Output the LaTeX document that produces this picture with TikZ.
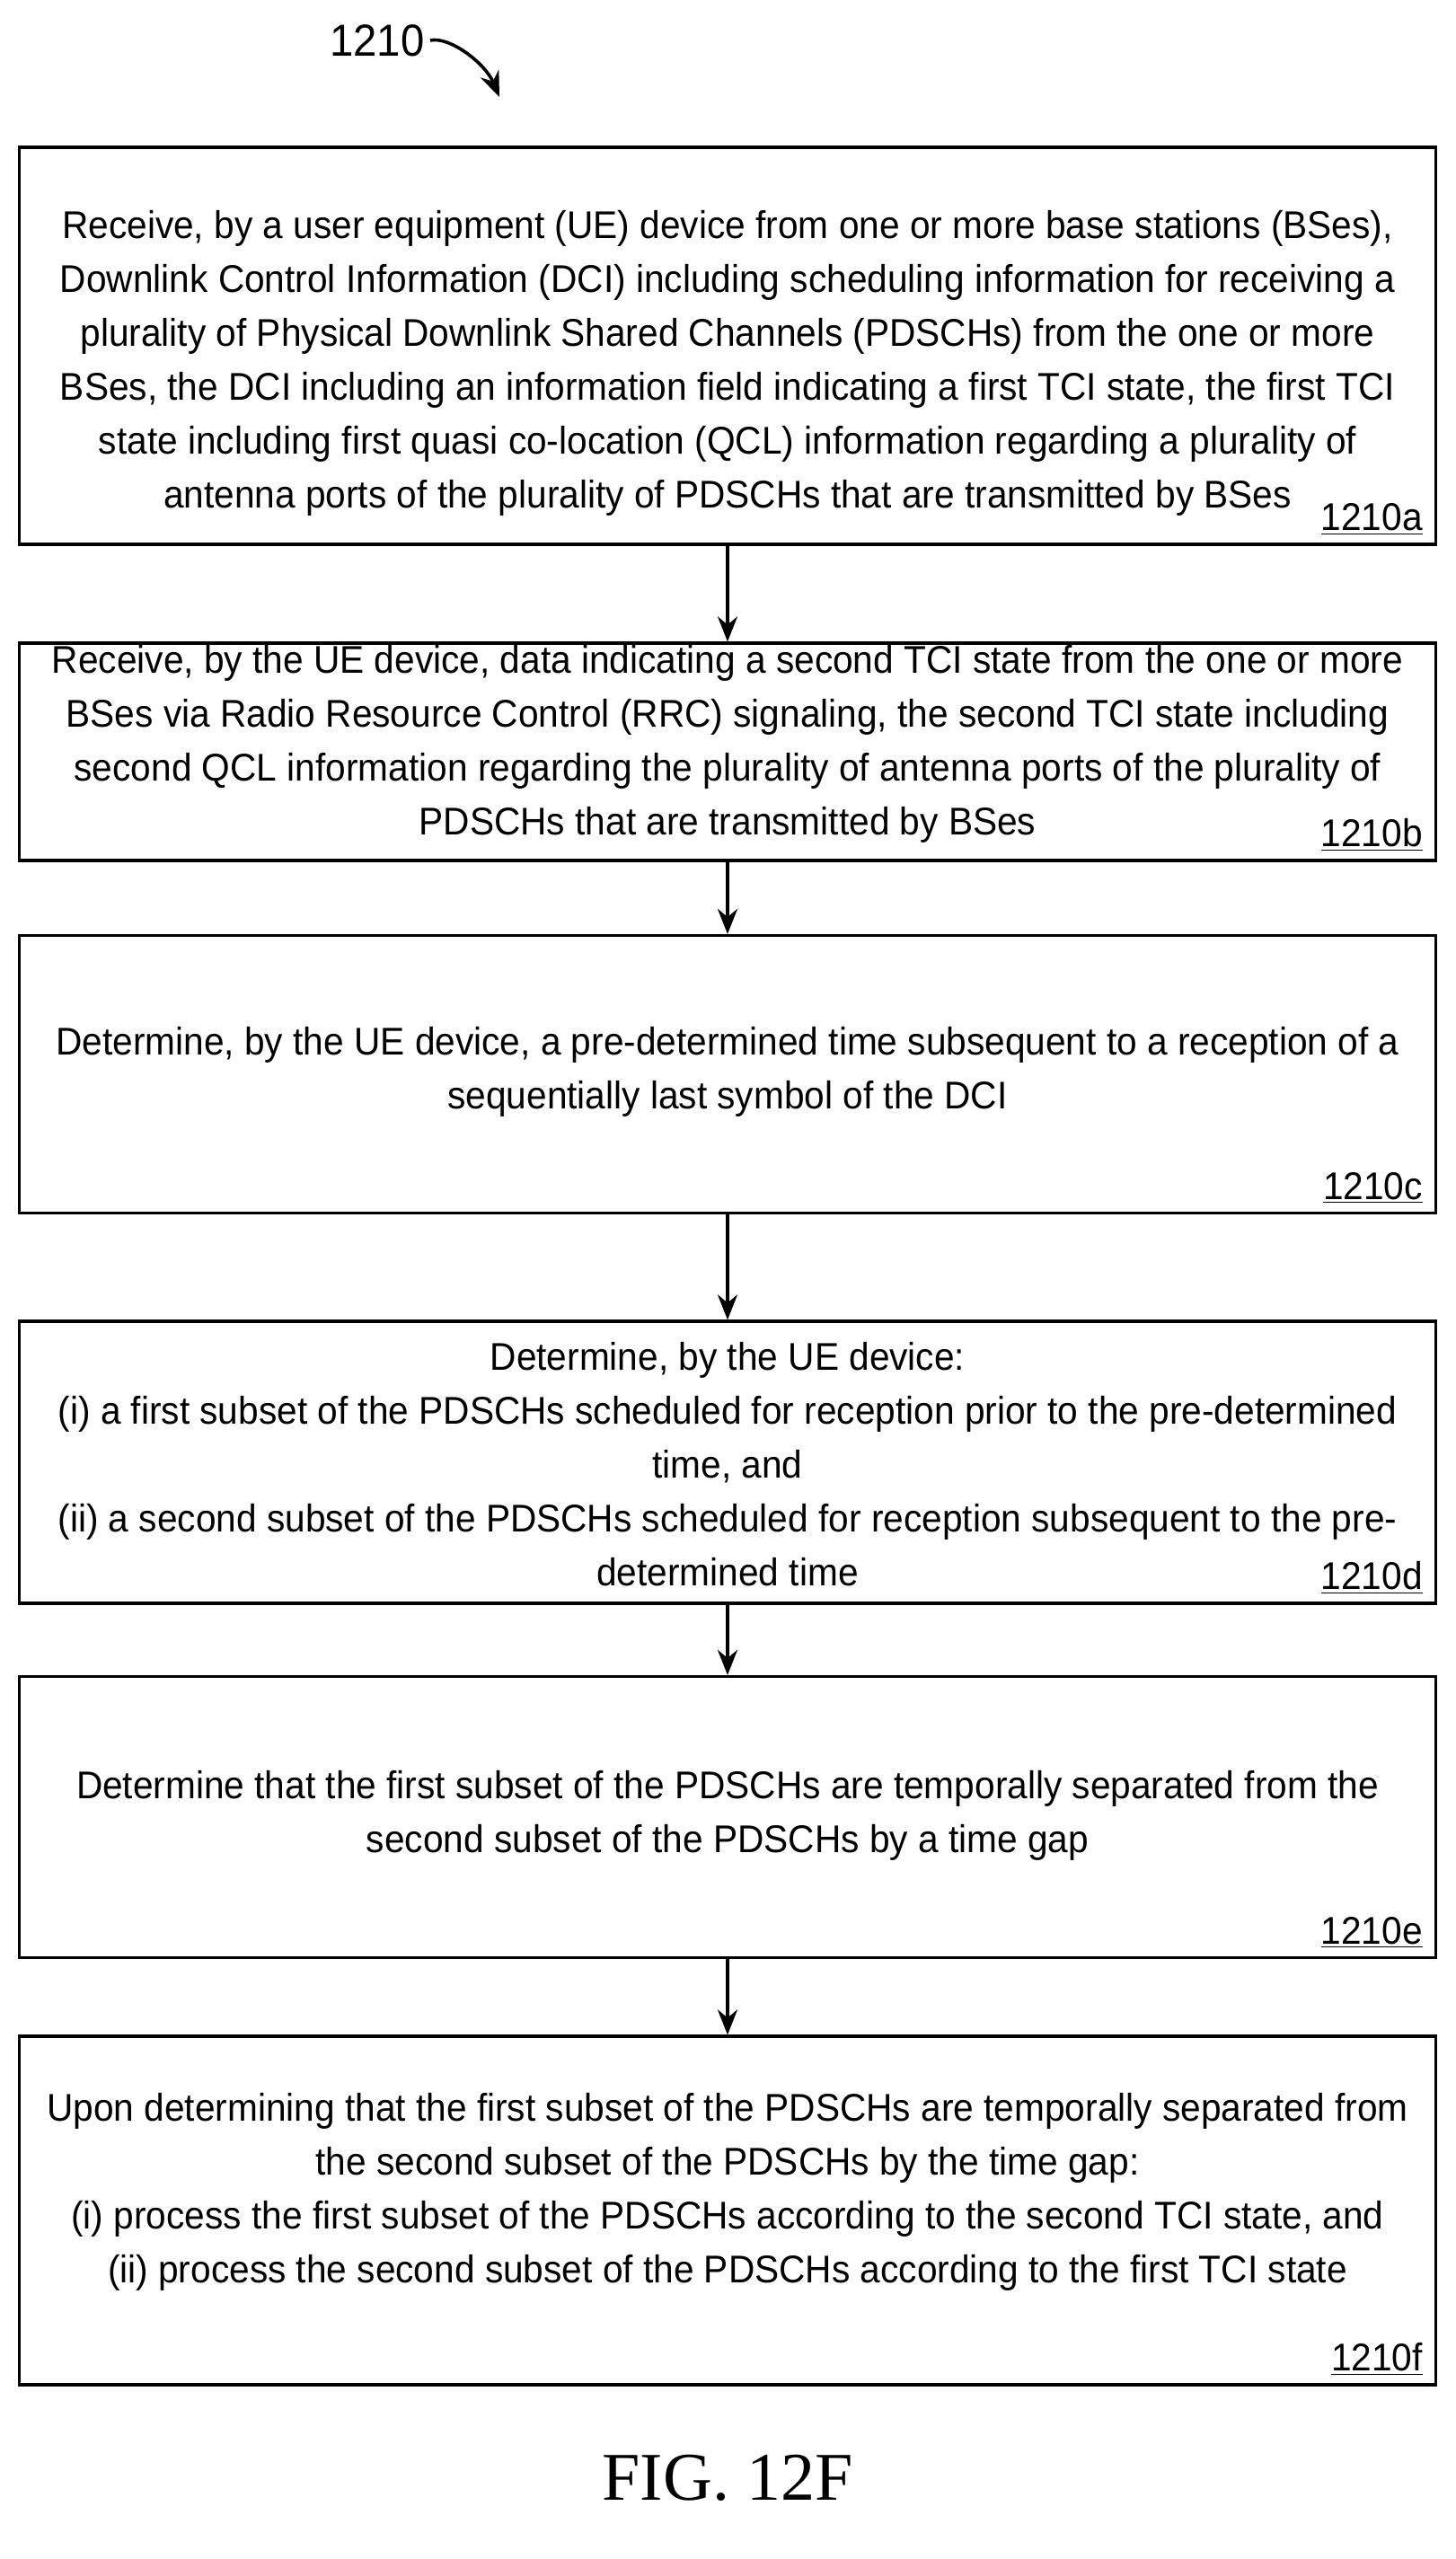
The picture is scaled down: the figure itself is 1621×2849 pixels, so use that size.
\documentclass[tikz,border=0pt]{standalone}
\usepackage{fontspec}
\setmainfont{Liberation Sans}[FakeStretch=0.945]
\newfontfamily\figfont{Liberation Serif}
\usetikzlibrary{arrows.meta}
\begin{document}
\begin{tikzpicture}[x=0.5pt,y=-0.5pt,
  box/.style={draw,line width=1.6pt,minimum width=788.5pt,inner sep=0pt},
  txt/.style={align=center,font=\fontsize{21.5}{30}\selectfont,inner sep=0pt},
  lbl/.style={anchor=south east,font=\fontsize{21.5}{26}\selectfont,inner sep=0pt},
  arr/.style={-{Stealth[length=14pt,width=11pt]},line width=1.8pt}]
\useasboundingbox (0,0) rectangle (1621,2849);
\node[box,minimum height=221pt] (a) at (810,385) {};
\node[box,minimum height=121pt] (b) at (810,837) {};
\node[box,minimum height=154.5pt] (c) at (810,1196) {};
\node[box,minimum height=157pt] (d) at (810,1628) {};
\node[box,minimum height=156.5pt] (e) at (810,2023) {};
\node[box,minimum height=194pt] (f) at (810,2461) {};
\node[txt] (ta) at (810,404) {Receive, by a user equipment (UE) device from one or more base stations (BSes),\\Downlink Control Information (DCI) including scheduling information for receiving a\\plurality of Physical Downlink Shared Channels (PDSCHs) from the one or more\\BSes, the DCI including an information field indicating a first TCI state, the first TCI\\state including first quasi co-location (QCL) information regarding a plurality of\\antenna ports of the plurality of PDSCHs that are transmitted by BSes};
\node[txt] (tb) at (810,828) {Receive, by the UE device, data indicating a second TCI state from the one or more\\BSes via Radio Resource Control (RRC) signaling, the second TCI state including\\second QCL information regarding the plurality of antenna ports of the plurality of\\PDSCHs that are transmitted by BSes};
\node[txt] (tc) at (810,1193) {Determine, by the UE device, a pre-determined time subsequent to a reception of a\\sequentially last symbol of the DCI};
\node[txt] (td) at (810,1630) {Determine, by the UE device:\\(i) a first subset of the PDSCHs scheduled for reception prior to the pre-determined\\time, and\\(ii) a second subset of the PDSCHs scheduled for reception subsequent to the pre-\\determined time};
\node[txt] (te) at (810,2021) {Determine that the first subset of the PDSCHs are temporally separated from the\\second subset of the PDSCHs by a time gap};
\node[txt] (tf) at (810,2440) {Upon determining that the first subset of the PDSCHs are temporally separated from\\the second subset of the PDSCHs by the time gap:\\(i) process the first subset of the PDSCHs according to the second TCI state, and\\(ii) process the second subset of the PDSCHs according to the first TCI state};
\foreach \n/\l in {a/1210a,b/1210b,c/1210c,d/1210d,e/1210e,f/1210f}
  \node[lbl] (l\n) at ([xshift=-8pt,yshift=6pt]\n.south east) {\underline{\l}};
\draw[arr] (a.south) -- (b.north);
\draw[arr] (b.south) -- (c.north);
\draw[arr] (c.south) -- (d.north);
\draw[arr] (d.south) -- (e.north);
\draw[arr] (e.south) -- (f.north);
\node[font=\fontsize{25}{30}\selectfont,inner sep=0pt] (t) at (420,45) {1210};
\coordinate (tend) at (556,108);
\draw[arr] (t.east) ++(6,0) .. controls (500,40) and (540,70) .. (tend);
\node[font=\figfont\fontsize{38}{44}\selectfont,inner sep=0pt] (fig) at (810,2759) {FIG. 12F};
\end{tikzpicture}
\end{document}
